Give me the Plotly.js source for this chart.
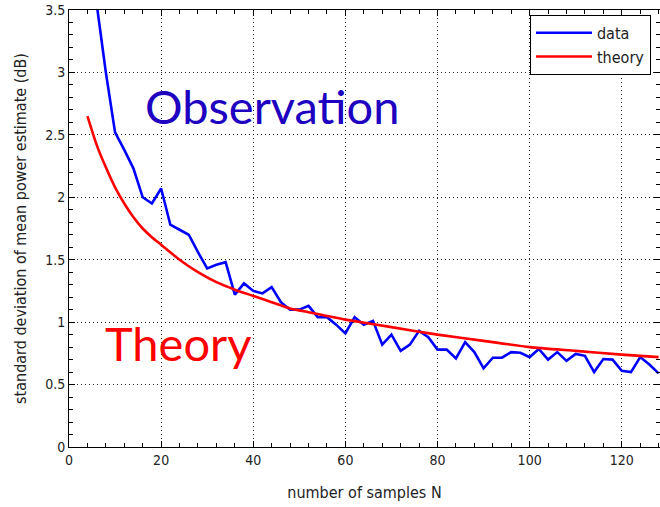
<!DOCTYPE html>
<html>
<head>
<meta charset="utf-8">
<script src="https://cdn.plot.ly/plotly-3.0.1.min.js"></script>
<style>html,body{margin:0;padding:0;background:#fff;}#chart{width:660px;height:507px;}</style>
</head>
<body>
<div id="chart"></div>
<script>
// Observed data (N = number of samples)
const dataN = [4,6,8,10,12,14,16,18,20,22,24,26,28,30,32,34,36,38,40,42,44,46,48,50,52,54,56,58,60,62,64,66,68,70,72,74,76,78,80,82,84,86,88,90,92,94,96,98,100,102,104,106,108,110,112,114,116,118,120,122,124,126,128];
const dataStd = [4.6,3.55,3.0,2.52,2.38,2.23,2.0,1.95,2.07,1.78,1.74,1.70,1.56,1.43,1.46,1.48,1.22,1.31,1.25,1.23,1.28,1.16,1.10,1.10,1.13,1.04,1.04,0.98,0.91,1.04,0.98,1.01,0.82,0.90,0.77,0.82,0.93,0.88,0.78,0.78,0.71,0.84,0.76,0.63,0.715,0.715,0.76,0.755,0.72,0.785,0.70,0.76,0.69,0.745,0.73,0.60,0.705,0.70,0.61,0.60,0.72,0.66,0.59];
// Theory curve
const theoryN = [4,6,8,10,12,14,16,18,20,24,28,32,36,40,44,48,52,56,60,70,80,90,100,110,120,128];
const theoryStd = [2.65,2.42,2.24,2.08,1.95,1.84,1.75,1.68,1.62,1.50,1.40,1.32,1.26,1.21,1.16,1.11,1.08,1.05,1.02,0.96,0.90,0.85,0.80,0.77,0.74,0.72];
const xTicks = [0,20,40,60,80,100,120];
const yTicks = [0,0.5,1,1.5,2,2.5,3,3.5];
const yTickText = ['0','0.5','1','1.5','2','2.5','3','3.5'];

const fam = '"DejaVu Sans Condensed", "Liberation Sans Narrow", "Liberation Sans", Arial, sans-serif';
const tickFont = {family:fam, size:14, color:'#222'};
const traces = [
  {x:dataN, y:dataStd, name:'data', mode:'lines', line:{color:'#0000ff', width:2.6}},
  {x:theoryN, y:theoryStd, name:'theory', mode:'lines', line:{color:'#ff0000', width:2.6, shape:'spline', smoothing:0.6}}
];
const axisCommon = {
  showline:true, linecolor:'#000', linewidth:1, mirror:'allticks',
  ticks:'inside', ticklen:6, tickcolor:'#000', tickwidth:1,
  showgrid:true, gridcolor:'#222', gridwidth:1, griddash:'1px,3px',
  zeroline:false, tickfont:tickFont, fixedrange:true
};
const layout = {
  width:660, height:507,
  margin:{l:69, r:0, t:10, b:60},
  paper_bgcolor:'#fff', plot_bgcolor:'#fff',
  showlegend:true,
  legend:{x:0.78, y:0.989, xanchor:'left', yanchor:'top', bgcolor:'#fff', bordercolor:'#000', borderwidth:1,
          font:{family:fam, size:16, color:'#222'},
          itemwidth:56, tracegroupgap:0},
  xaxis:Object.assign({}, axisCommon, {
    range:[0,128.3], tickvals:xTicks, ticktext:xTicks.map(String),
    minor:{dtick:4, tick0:0, ticks:'inside', ticklen:4, tickcolor:'#000', showgrid:false},
    title:{text:'number of samples N', font:{family:fam, size:16, color:'#222'}, standoff:20}
  }),
  yaxis:Object.assign({}, axisCommon, {
    range:[0,3.5], tickvals:yTicks, ticktext:yTickText,
    minor:{dtick:0.1, tick0:0, ticks:'inside', ticklen:4, tickcolor:'#000', showgrid:false},
    title:{text:'standard deviation of mean power estimate (dB)', font:{family:fam, size:16, color:'#222'}, standoff:14}
  }),
  annotations:[
    {x:44, y:2.73, xref:'x', yref:'y', text:'Observation', showarrow:false, xanchor:'center', yanchor:'middle',
     font:{family:'Lato, "Open Sans", sans-serif', size:47, color:'#2000c0'}},
    {x:23.6, y:0.83, xref:'x', yref:'y', text:'Theory', showarrow:false, xanchor:'center', yanchor:'middle',
     font:{family:'Lato, "Open Sans", sans-serif', size:47, color:'#ff0000'}}
  ]
};
Plotly.newPlot('chart', traces, layout, {displayModeBar:false, staticPlot:true});
</script>
</body>
</html>
